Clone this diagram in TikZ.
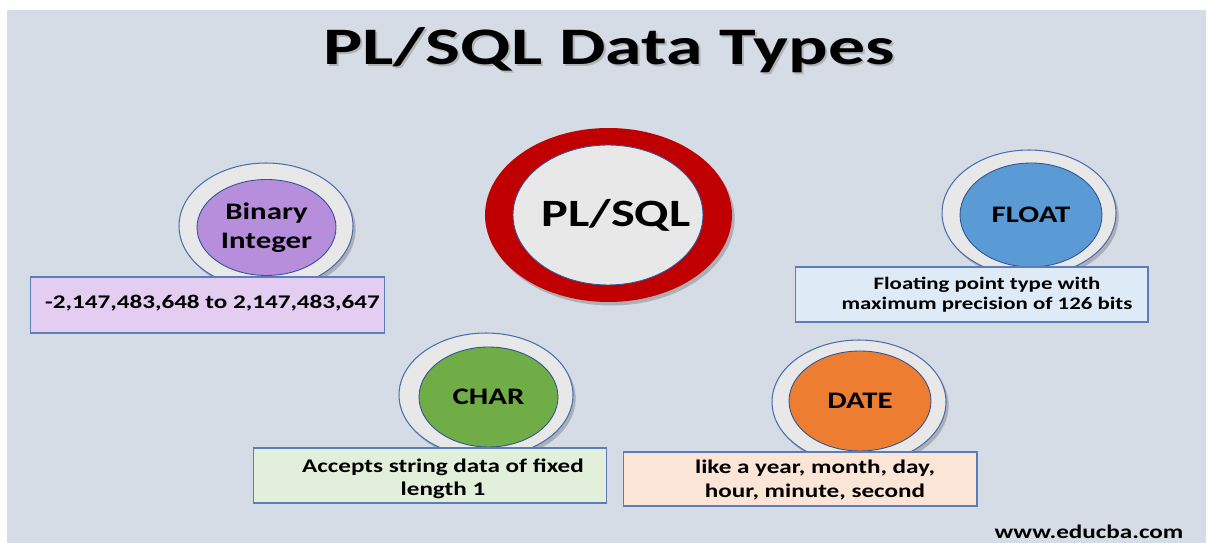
\documentclass[tikz,border=0pt]{standalone}
\usepackage{fontspec}
\setmainfont{Carlito}[FakeStretch=1.3]
\newfontfamily\titlefont{Carlito}[FakeStretch=1.4]
\usetikzlibrary{shapes.geometric,shadows,calc}
\definecolor{panel}{HTML}{D6DCE5}
\definecolor{ringfill}{HTML}{E8E8E8}
\definecolor{ringborder}{HTML}{4A6FB0}
\definecolor{coreborder}{HTML}{2F5597}
\definecolor{boxborder}{HTML}{5B7DBA}
\definecolor{redring}{HTML}{C00000}
\definecolor{purplecore}{HTML}{B78EDC}
\definecolor{bluecore}{HTML}{5B9BD5}
\definecolor{greencore}{HTML}{70AD47}
\definecolor{orangecore}{HTML}{ED7D31}
\definecolor{purplebox}{HTML}{E3CDF0}
\definecolor{bluebox}{HTML}{DEEBF7}
\definecolor{greenbox}{HTML}{E2EFDA}
\definecolor{orangebox}{HTML}{FBE5D6}
\tikzset{
  ring/.style={ellipse, draw=ringborder, line width=0.6pt, fill=ringfill, inner sep=0pt,
    minimum width=3.48cm, minimum height=2.5cm,
    drop shadow={shadow xshift=1.5pt, shadow yshift=-2pt, opacity=0.3, fill=black!70}},
  core/.style={ellipse, draw=coreborder, line width=0.5pt, inner sep=0pt, align=center,
    minimum width=2.8cm, minimum height=2cm, font=\bfseries\fontsize{13.5}{16.5}\selectfont},
  descbox/.style={rectangle, draw=boxborder, line width=0.6pt, inner sep=0pt,
    minimum width=7.08cm, minimum height=1.1cm},
  desctext/.style={align=center, inner sep=0pt, font=\bfseries\fontsize{11}{13}\selectfont}
}
\begin{document}
\begin{tikzpicture}[x=0.02cm,y=-0.02cm]
\useasboundingbox (0,0) rectangle (1207,543);
\fill[white] (0,0) rectangle (1207,543);
\fill[panel] (7,10) rectangle (1206,543);

% title
\node[anchor=base, text=black!45, opacity=0.5, font=\titlefont\bfseries\fontsize{30}{36}\selectfont] (titleshadow) at (611,67) {PL/SQL Data Types};
\node[anchor=base, font=\titlefont\bfseries\fontsize{30}{36}\selectfont] (title) at (609,65) {PL/SQL Data Types};

% central
\node[ellipse, fill=redring, minimum width=4.94cm, minimum height=3.48cm, inner sep=0pt,
  drop shadow={shadow xshift=1.5pt, shadow yshift=-2pt, opacity=0.3, fill=black!70}] (plring) at (608.5,215) {};
\node[ellipse, fill=ringfill, draw=coreborder, line width=0.5pt, minimum width=3.8cm, minimum height=2.8cm, inner sep=0pt] (plsql) at (608,215) {};
\node[inner sep=0pt, font=\bfseries\fontsize{22}{26}\selectfont] (plsqltext) at ($(plsql)+(8,0)$) {PL/SQL};

% Binary Integer
\node[ring, minimum height=2.52cm] (binring) at (266,226) {};
\node[core, fill=purplecore, minimum width=2.78cm, minimum height=1.92cm] (bin) at (266.5,227.5) {Binary\\Integer};
\node[descbox, fill=purplebox, minimum width=7.1cm, minimum height=1.12cm] (bindesc) at (207.5,305) {};
\node[desctext] (bintext) at ($(bindesc)+(5,-2)$) {-2,147,483,648 to 2,147,483,647};

% FLOAT
\node[ring, minimum height=2.52cm] (floatring) at (1029,213) {};
\node[core, fill=bluecore, minimum width=2.84cm, minimum height=2.08cm] (float) at (1031,215) {FLOAT};
\node[descbox, fill=bluebox, minimum width=7.06cm, minimum height=1.1cm] (floatdesc) at (971.5,294.5) {};
\node[desctext, font=\bfseries\fontsize{10}{11.4}\selectfont] (floattext) at ($(floatdesc)+(15.5,0)$) {Floating point type with\\maximum precision of 126 bits};

% CHAR
\node[ring, minimum height=2.48cm] (charring) at (486,395) {};
\node[core, fill=greencore, minimum width=2.78cm, minimum height=2cm] (char) at (488.5,397) {CHAR};
\node[descbox, fill=greenbox] (chardesc) at (430,475.5) {};
\node[desctext, font=\bfseries\fontsize{11}{13}\selectfont] (chartext) at ($(chardesc)+(13,3)$) {Accepts string data of fixed\\length 1};

% DATE
\node[ring, minimum height=2.48cm] (datering) at (859,402) {};
\node[core, fill=orangecore, minimum width=2.84cm, minimum height=2cm] (date) at (860,401) {DATE};
\node[descbox, fill=orangebox, minimum height=1.08cm] (datedesc) at (800,479) {};
\node[desctext, font=\bfseries\fontsize{11}{13.6}\selectfont] (datetext) at ($(datedesc)+(15,1)$) {like a year, month, day,\\hour, minute, second};

% footer
\node[anchor=base, font=\bfseries\fontsize{11}{13}\selectfont] (web) at (1089,539) {www.educba.com};
\end{tikzpicture}
\end{document}
